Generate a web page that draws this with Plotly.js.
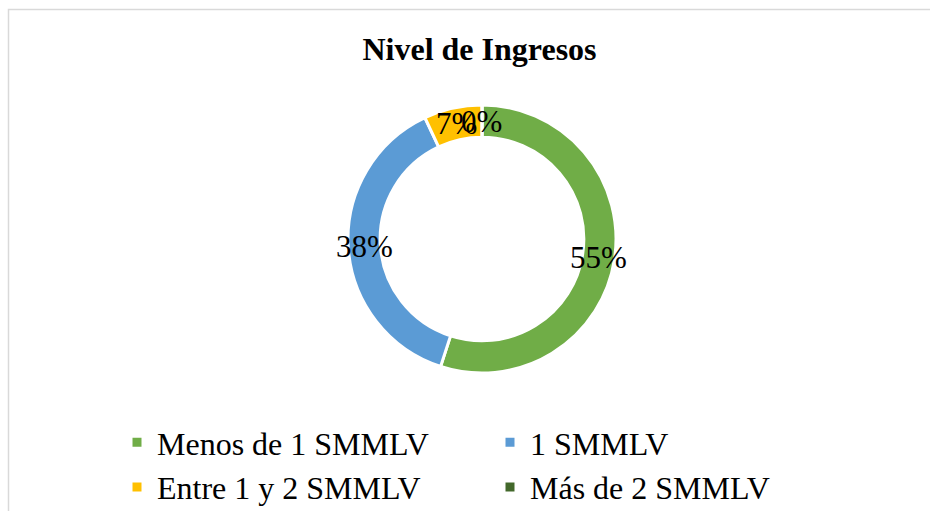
<!DOCTYPE html>
<html>
<head>
<meta charset="utf-8">
<script src="https://cdn.plot.ly/plotly-3.0.1.min.js"></script>
<style>html,body{margin:0;padding:0;background:#fff;}#chart{width:930px;height:511px;}</style>
</head>
<body>
<div id="chart"></div>
<script>
const categories = ["Menos de 1 SMMLV", "1 SMMLV", "Entre 1 y 2 SMMLV", "Más de 2 SMMLV"];
const values = [55, 38, 7, 0];
const labelsText = ["55%", "38%", "7%", "0%"];
const colors = ["#70AD47", "#5B9BD5", "#FFC000", "#43682B"];

const FONT = "'Liberation Serif', 'Times New Roman', Times, serif";
const W = 930, H = 511;
const cxPx = 482, cyPx = 239, R = 134, hole = 0.76;
const domX = [(cxPx - R) / W, (cxPx + R) / W];
const domY = [(H - cyPx - R) / H, (H - cyPx + R) / H];

// label annotations at ring-middle of each slice, computed from the data
const total = values.reduce((a, b) => a + b, 0);
const rMid = R * (1 + hole) / 2;
let cum = 0;
const annotations = values.map((v, i) => {
  const mid = (cum + v / 2) / total * 2 * Math.PI;
  cum += v;
  const px = cxPx + rMid * Math.sin(mid);
  const py = cyPx - rMid * Math.cos(mid);
  return {
    text: labelsText[i], xref: "paper", yref: "paper",
    x: px / W, y: (H - py) / H, xanchor: "center", yanchor: "middle",
    showarrow: false, font: {family: FONT, size: 31, color: "#000"}
  };
});

const trace = {
  type: "pie",
  labels: categories,
  values: values,
  hole: hole,
  sort: false,
  direction: "clockwise",
  rotation: 0,
  textinfo: "none",
  hoverinfo: "label+percent",
  marker: {colors: colors, line: {color: "#ffffff", width: 3}},
  domain: {x: domX, y: domY}
};

const layout = {
  width: W, height: H,
  margin: {l: 0, r: 0, t: 0, b: 0, autoexpand: false},
  paper_bgcolor: "#ffffff",
  font: {family: FONT, color: "#000"},
  title: {
    text: "<b>Nivel de Ingresos</b>",
    font: {family: FONT, size: 32, color: "#000"},
    x: 479.5 / W, xanchor: "center", xref: "paper",
    y: 1 - 49 / H, yanchor: "middle", yref: "container"
  },
  showlegend: true,
  legend: {
    orientation: "h",
    entrywidth: 328, entrywidthmode: "pixels",
    x: 117 / W, xanchor: "left",
    y: 1 - 415 / H, yanchor: "top",
    font: {family: FONT, size: 32, color: "#000"},
    traceorder: "normal",
    bgcolor: "rgba(0,0,0,0)"
  },
  annotations: annotations,
  shapes: [{
    type: "rect", xref: "paper", yref: "paper",
    x0: 8.5 / W, x1: 1.05, y0: -0.05, y1: 1 - 9.5 / H,
    line: {color: "#d9d9d9", width: 1.5}, fillcolor: "rgba(0,0,0,0)", layer: "below"
  }]
};

Plotly.newPlot("chart", [trace], layout, {displayModeBar: false, responsive: false});
</script>
</body>
</html>
